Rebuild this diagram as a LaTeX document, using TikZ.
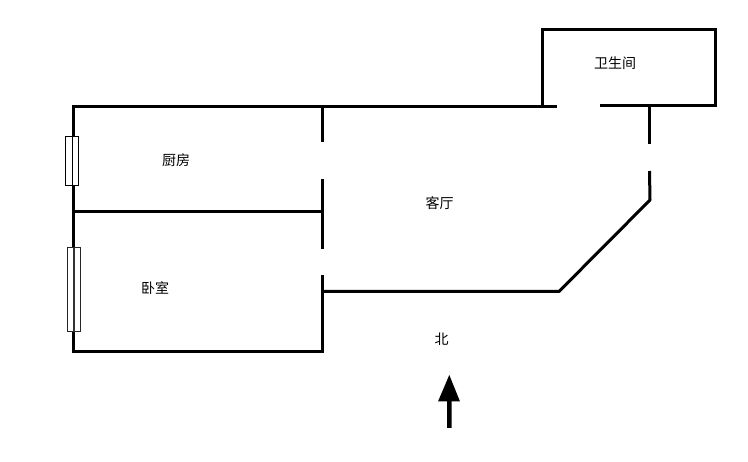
\documentclass[tikz,border=0pt]{standalone}
\usepackage{fontspec}
\newfontfamily\cjk{Noto Sans CJK SC}
\tikzset{
  wall/.style={line width=3pt,black,line cap=butt},
  pane/.style={draw=black,line width=1pt,fill=white},
  panegray/.style={draw=black!85,line width=1.3pt,fill=white},
  sill/.style={line width=1pt,black},
  room/.style={inner sep=0pt,font=\cjk\fontsize{14}{14}\selectfont,text=black}
}
\begin{document}
\begin{tikzpicture}[x=1pt,y=-1pt]
\useasboundingbox[fill=white] (0,0) rectangle (748,462);
% outer walls
\draw[wall,line join=miter] (322.7,141.7) -- (322.7,106.5) -- (73.3,106.5) -- (73.3,351.5) -- (322.7,351.5) -- (322.7,275);
\draw[wall] (322.7,106.5) -- (556.7,106.5);
\draw[wall] (73.3,211.5) -- (322.7,211.5);
\draw[wall] (322.7,179) -- (322.7,248.7);
\draw[wall,line join=round] (321,291.5) -- (559,291.5) -- (650,200) -- (649.5,171);
% bathroom
\draw[wall,line join=miter] (542.5,106.5) -- (542.5,29.8) -- (715.5,29.8) -- (715.5,106) -- (600,106);
\draw[wall] (649.5,106) -- (649.5,143.7);
% windows
\filldraw[pane] (65.5,136.3) rectangle (78.3,185.7);
\draw[sill] (72,136.3) -- (72,185.7);
\filldraw[panegray] (67.8,247.7) rectangle (80.2,331.7);
\draw[line width=2pt,black!80] (73.5,247.7) -- (73.5,331.7);
% labels
\node[room] (kitchen) at (176,160.5) {\cjk 厨房};
\node[room] (bedroom) at (155,288.5) {\cjk 卧室};
\node[room] (living) at (439.5,203.5) {\cjk 客厅};
\node[room] (bath) at (615,63.5) {\cjk 卫生间};
\node[room] (north) at (441.5,339.5) {\cjk 北};
% north arrow
\fill[black] (447,428) -- (447,401.5) -- (438,401.5) -- (449.3,375) -- (460,401.5) -- (451.7,401.5) -- (451.7,428) -- cycle;
\end{tikzpicture}
\end{document}
